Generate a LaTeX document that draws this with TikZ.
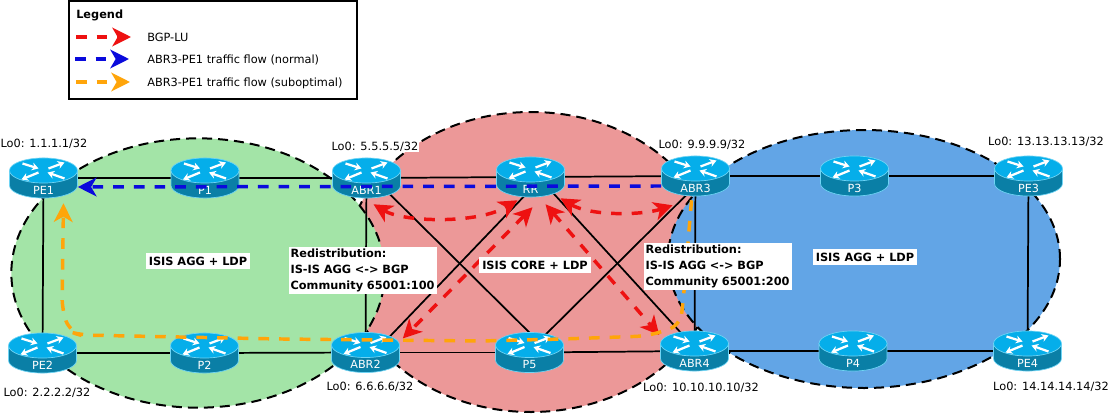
\documentclass[tikz,border=0pt]{standalone}
\usepackage{fontspec}
\setmainfont{DejaVu Sans}
\usetikzlibrary{arrows.meta,shapes.geometric,calc}
\definecolor{agggreen}{HTML}{A3E4A7}
\definecolor{corered}{HTML}{EC9898}
\definecolor{aggblue}{HTML}{62A5E6}
\definecolor{flowred}{HTML}{EE1111}
\definecolor{flowblue}{HTML}{0A0ADC}
\definecolor{floworange}{HTML}{FFA50A}
\definecolor{routertop}{HTML}{05AEEA}
\definecolor{routerside}{HTML}{0A7FA6}
\definecolor{routeredge}{HTML}{6FD4F4}
\tikzset{
  area/.style={ellipse,draw=black,line width=1.5pt,dash pattern=on 7.5pt off 4.5pt,inner sep=0pt},
  link/.style={draw=black,line width=1.3pt},
  flow/.style={line width=2.6pt,dash pattern=on 8pt off 7.5pt,-{Stealth[length=14pt,width=14pt,inset=4pt]}},
  flowboth/.style={flow,{Stealth[length=14pt,width=14pt,inset=4pt]}-{Stealth[length=14pt,width=14pt,inset=4pt]}},
  lbl/.style={fill=white,font=\fontsize{8.5}{10}\selectfont,inner sep=0.5pt},
  legendtxt/.style={font=\fontsize{8.5}{10}\selectfont,inner sep=0pt,anchor=west},
  redis/.style={anchor=north west,fill=white,font=\fontsize{8.5}{12}\selectfont\bfseries,align=left,inner sep=1pt,text width=109pt,minimum height=35pt},
  areatxt/.style={font=\fontsize{8.5}{10}\selectfont\bfseries,inner sep=0pt,fill=white,minimum height=12pt},
  routername/.style={text=white,font=\fontsize{8.4}{10}\selectfont,inner sep=0pt}
}
% one router icon, node (#1) is the whole icon
\newcommand{\router}[4]{%
  \node[minimum width=51pt,minimum height=30pt,inner sep=0pt] (#1) at (#2,#3) {};
  \fill[routerside,draw=routeredge,line width=.5pt] ($(#1)+(-34,-7.5)$) -- ($(#1)+(-34,7.5)$) arc[start angle=180,end angle=360,x radius=25.5pt,y radius=9.4pt] -- ($(#1)+(34,-7.5)$) -- cycle;
  \fill[routertop,draw=routeredge,line width=.5pt] ($(#1)+(0,-7.5)$) ellipse[x radius=25.5pt,y radius=9.4pt];
  \foreach \ax/\ay/\bx/\by in {-21/-7/-5/-2,5/-2/21/-8,-5/2/-22/9,21/8/4/2}
    \draw[white,line width=1.7pt,-{Stealth[length=5pt,width=6pt]}] ($(#1)+(\ax,-7.5+\ay)$) -- ($(#1)+(\bx,-7.5+\by)$);
  \node[routername] (#1name) at ($(#1)+(0,12)$) {#4};
}
\begin{document}
\begin{tikzpicture}[x=0.75pt,y=-0.75pt]
\useasboundingbox (0,0) rectangle (1109,414);
\fill[white] (0,0) rectangle (1109,414);
% areas
\node[area,fill=corered,minimum width=277pt,minimum height=225pt] (core) at (531,262) {};
\node[area,fill=aggblue,minimum width=294pt,minimum height=193.5pt] (aggright) at (864,259) {};
\node[area,fill=agggreen,minimum width=280pt,minimum height=202pt] (aggleft) at (198,273) {};
% invisible router boxes first, so links can sit under the icons
\foreach \rname/\rx/\ry in {pe1/43.5/178,p1/205/178,abr1/366.5/178,rr/530.5/177,abr3/695.5/176,p3/854.5/176,pe3/1028.5/176,pe2/42.5/353,p2/204.5/353,abr2/365.5/352.5,p5/529.5/352.5,abr4/694.5/351,p4/853/351,pe4/1027.5/351}
  \coordinate (\rname0) at (\rx,\ry);
% links
\draw[link] (pe10) -- (p10);
\draw[link] (p10) -- (abr10);
\draw[link] (abr10) -- (rr0);
\draw[link] (rr0) -- (abr30);
\draw[link] (abr30) -- (p30);
\draw[link] (p30) -- (pe30);
\draw[link] (pe20) -- (p20);
\draw[link] (p20) -- (abr20);
\draw[link] (abr20) -- (p50);
\draw[link] (p50) -- (abr40);
\draw[link] (abr40) -- (p40);
\draw[link] (p40) -- (pe40);
\draw[link] (pe10) -- (pe20);
\draw[link] (abr10) -- (abr20);
\draw[link] (abr30) -- (abr40);
\draw[link] (pe30) -- (pe40);
\draw[link] ([xshift=5.25pt]abr10) -- ([xshift=15pt]p50);
\draw[link] ([xshift=9pt]rr0) -- ([xshift=6.75pt]abr20);
\draw[link] ([xshift=6pt]rr0) -- ([xshift=2.25pt]abr40);
\draw[link] ([xshift=7.5pt]abr30) -- ([xshift=-1.5pt]p50);
% routers
\router{pe1}{43.5}{178}{PE1}
\router{p1}{205}{178}{P1}
\router{abr1}{366.5}{178}{ABR1}
\router{rr}{530.5}{177}{RR}
\router{abr3}{695.5}{176}{ABR3}
\router{p3}{854.5}{176}{P3}
\router{pe3}{1028.5}{176}{PE3}
\router{pe2}{42.5}{353}{PE2}
\router{p2}{204.5}{353}{P2}
\router{abr2}{365.5}{352.5}{ABR2}
\router{p5}{529.5}{352.5}{P5}
\router{abr4}{694.5}{351}{ABR4}
\router{p4}{853}{351}{P4}
\router{pe4}{1027.5}{351}{PE4}
% flows
\draw[flow,flowblue] ([yshift=-7.5pt]abr3.west) -- ([yshift=-6.75pt]pe1.east);
\draw[flowboth,flowred] ([shift={(7,6)}]abr1.south) .. controls +(30,18) and +(-40,24) .. ([shift={(-13,3)}]rr.south);
\draw[flowboth,flowred] ([shift={(30,1)}]rr.south) .. controls +(30,18) and +(-30,10) .. ([shift={(-23,9)}]abr3.south);
\draw[flowboth,flowred] ([shift={(2,10)}]rr.south) -- ([shift={(3,-14)}]abr2.east);
\draw[flowboth,flowred] ([shift={(15,7)}]rr.south) -- ([shift={(-1,-16)}]abr4.west);
\draw[flow,floworange,rounded corners=9pt] ([shift={(-4,4)}]abr3.south) -- (683,303) -- (680,326) -- (647,336) -- (563,339) -- (480,341) -- (280,339) -- (80,335) -- (70,332) -- (62,310) -- ([shift={(20,5)}]pe1.south);
% labels
\node[lbl] (lo1) at (44,144) {Lo0: 1.1.1.1/32};
\node[lbl] (lo5) at (375,147) {Lo0: 5.5.5.5/32};
\node[lbl] (lo9) at (702,145) {Lo0: 9.9.9.9/32};
\node[lbl] (lo13) at (1046,142) {Lo0: 13.13.13.13/32};
\node[lbl] (lo2) at (47,393) {Lo0: 2.2.2.2/32};
\node[lbl] (lo6) at (370,387) {Lo0: 6.6.6.6/32};
\node[lbl] (lo10) at (701,388) {Lo0: 10.10.10.10/32};
\node[lbl] (lo14) at (1051,387) {Lo0: 14.14.14.14/32};
\node[areatxt,minimum width=78pt] (txtaggleft) at (198,261) {ISIS AGG + LDP};
\node[areatxt,minimum width=84pt] (txtcore) at (535,265) {ISIS CORE + LDP};
\node[areatxt,minimum width=78pt] (txtaggright) at (865,257) {ISIS AGG + LDP};
\node[redis] (redisa) at (289,247) {Redistribution:\\IS-IS AGG <-> BGP\\Community 65001:100};
\node[redis] (redisb) at (644,243) {Redistribution:\\IS-IS AGG <-> BGP\\Community 65001:200};
% legend
\node[draw=black,line width=1.5pt,fill=white,minimum width=216pt,minimum height=73.5pt,inner sep=0pt] (legend) at (213,50) {};
\node[font=\fontsize{8.5}{10}\selectfont\bfseries,inner sep=0pt,anchor=west] (legendtitle) at (76,15) {Legend};
\coordinate (reda) at (76,37);
\coordinate (redb) at (131,37);
\coordinate (bluea) at (75,59);
\coordinate (blueb) at (129,59);
\coordinate (orangea) at (76,82);
\coordinate (orangeb) at (130,82);
\draw[flow,flowred] (reda) -- (redb);
\draw[flow,flowblue] (bluea) -- (blueb);
\draw[flow,floworange] (orangea) -- (orangeb);
\node[legendtxt] (legendred) at (147,37) {BGP-LU};
\node[legendtxt] (legendblue) at (147,60) {ABR3-PE1 traffic flow (normal)};
\node[legendtxt] (legendorange) at (147,83) {ABR3-PE1 traffic flow (suboptimal)};
\end{tikzpicture}
\end{document}
